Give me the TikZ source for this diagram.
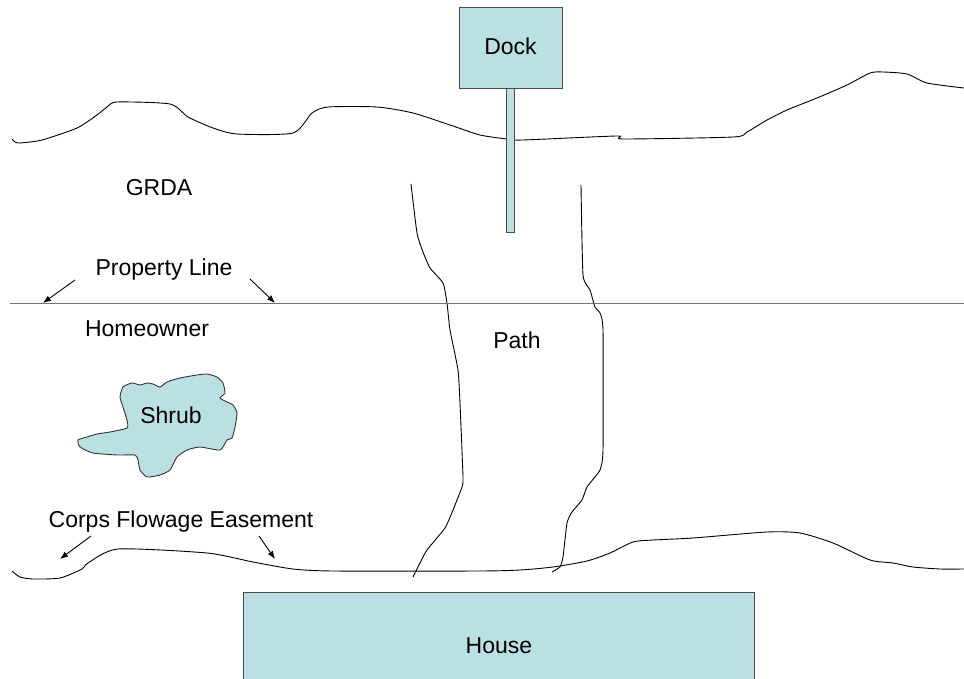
\documentclass[tikz,border=0pt]{standalone}
\usepackage{fontspec}
\setmainfont{Liberation Sans}
\usepackage{xcolor}
\usetikzlibrary{arrows.meta,calc,positioning}
\definecolor{boxfill}{RGB}{187,224,227}
\tikzset{%
	box/.style     = {draw=black!70, fill=boxfill, line width=0.9pt, rectangle, inner sep=0pt, text depth=0.3em, text centered},
	label/.style   = {anchor=base, inner sep=0pt},
	shore/.style   = {line width=0.9pt, line join=round},
	propline/.style= {draw=black!55, line width=1.2pt},
	pointer/.style = {line width=0.9pt, -{Latex[length=8pt,width=6pt]}},
}

\begin{document}
\begin{tikzpicture}[x=1pt,y=-1pt,font=\fontsize{23}{27}\selectfont]
		\useasboundingbox (0,0) rectangle (964,679);
		\draw[shore] plot[smooth,tension=0.4] coordinates {(12,139) (18,143) (42,140) (77,128) (97,115) (107,107) (117,102) (170,104) (188,117) (213,128) (237,134) (293,133) (312,113) (328,107) (377,107) (413,113) (450,125) (480,135) (507,139) (523,140) (617,136) (623,139) (733,137) (747,132) (767,120) (787,110) (817,98) (847,85) (870,73) (883,72) (907,74) (927,83) (964,88)};
		\draw[shore] plot[smooth,tension=0.4] coordinates {(12,571) (20,577) (33,579) (60,578) (82,569) (88,563) (118,549) (207,553) (253,562) (293,569) (333,571) (480,571) (520,570) (553,567) (587,561) (610,553) (633,542) (653,540) (693,538) (767,532) (800,533) (833,543) (870,560) (893,563) (913,567) (940,569) (964,569)};
		\draw[shore] plot[smooth,tension=0.3] coordinates {(411,184) (417,233) (423,252) (430,268) (443,283) (447,303) (450,330) (458,370) (460,403) (463,477) (462,487) (453,510) (445,528) (427,550) (420,563) (413,577)};
		\draw[shore] plot[smooth,tension=0.3] coordinates {(581,185) (583,275) (590,290) (595,307) (600,313) (603,330) (603,450) (600,470) (587,487) (582,500) (572,512) (567,523) (563,557) (560,567) (552,572)};
		\draw[propline] (10,303.5) -- (964,303.5);
		
		\node[box, minimum width=103, minimum height=81] (dock) at (510.5,47.5) {Dock};
		\node[box, minimum width=8, minimum height=144, anchor=north] (pier) at (dock.south) {};
		\node[box, minimum width=511, minimum height=110, anchor=north west] (house) at (243,592) {House};
		
		\draw[draw=black!80, fill=boxfill, line width=0.9pt] plot[smooth cycle,tension=0.35] coordinates {(123,387) (132,383) (140,385) (147,383) (153,384) (160,387) (167,382) (180,378) (197,375) (207,374) (217,377) (223,383) (225,393) (220,398) (227,402) (233,405) (237,413) (235,427) (232,438) (227,440) (220,450) (200,447) (187,450) (177,457) (170,470) (160,475) (147,477) (140,470) (138,460) (135,455) (117,455) (93,453) (80,447) (78,440) (87,437) (97,434) (110,432) (127,428) (127,420) (123,407) (120,397)};
		\node[label] (shrub) at (171,423) {Shrub};
		
		\node[label] (grda) at (159,196) {GRDA};
		\node[label] (homeowner) at (147,336) {Homeowner};
		\node[label] (path) at (517,348) {Path};
		\node[label] (property) at (164,276) {Property Line};
		\node[label] (corps) at (181,527) {Corps Flowage Easement};
		
		\coordinate (pl-a) at (75,280);
		\coordinate (pl-b) at (250,279);
		\coordinate (pl-left) at (43,303);
		\coordinate (pl-right) at (275,303);
		\draw[pointer] (pl-a) -- (pl-left);
		\draw[pointer] (pl-b) -- (pl-right);
		
		\coordinate (cf-a) at (91,536);
		\coordinate (cf-b) at (259,536);
		\coordinate (cf-left) at (60,559);
		\coordinate (cf-right) at (275,559);
		\draw[pointer] (cf-a) -- (cf-left);
		\draw[pointer] (cf-b) -- (cf-right);
	\end{tikzpicture}
\end{document}
